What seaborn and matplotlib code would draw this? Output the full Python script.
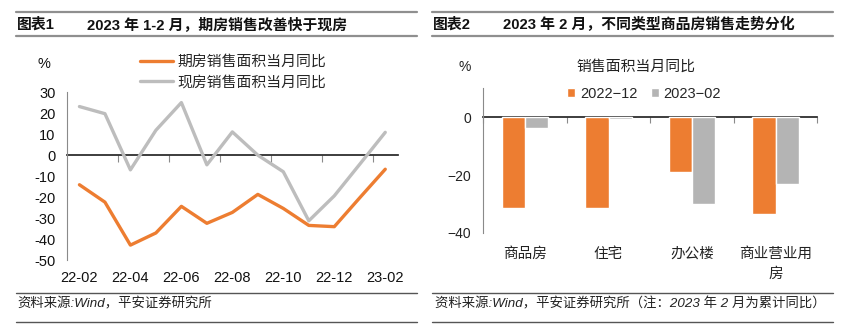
import matplotlib
matplotlib.use("Agg")
import matplotlib.pyplot as plt
import matplotlib.ticker as mticker
import seaborn as sns
import pandas as pd
import numpy as np

# ---------------- data ----------------
months = ["22-02", "22-03", "22-04", "22-05", "22-06", "22-07", "22-08",
          "22-09", "22-10", "22-11", "22-12", "23-01", "23-02"]
futures_yoy = [-14.1, -22.4, -42.9, -37.1, -24.4, -32.5, -27.3,
               -18.7, -25.4, -33.5, -34.1, -20.3, -6.7]
spot_yoy = [23.2, 19.8, -7.0, 11.9, 25.1, -4.6, 11.1,
            0.0, -7.9, -31.3, -19.4, -4.3, 10.9]
line_names = ["期房销售面积当月同比", "现房销售面积当月同比"]
month_tick_labels = ["22-02", "22-04", "22-06", "22-08", "22-10", "22-12", "23-02"]

categories = ["商品房", "住宅", "办公楼", "商业营业用\n房"]
dec_2022 = [-31.6, -31.6, -19.1, -33.6]
feb_2023 = [-3.8, -0.7, -30.1, -23.1]
bar_names = ["2022\u221212", "2023\u221202"]

ORANGE = "#ED7D31"
GRAY_LINE = "#BDBDBD"
GRAY_BAR = "#B4B4B4"
AXIS_C = "#8A8A8A"

sns.set_theme(style="white")
plt.rcParams["font.family"] = ["Liberation Sans", "Noto Sans CJK SC", "DejaVu Sans"]
plt.rcParams["axes.unicode_minus"] = True

W, H = 861, 326
fig = plt.figure(figsize=(W / 100, H / 100), dpi=100)


def fx(px):
    return px / W


def fy(py):
    return 1 - py / H


def hline(x0, x1, y, lw=1.0, color="#8C8C8C"):
    fig.add_artist(plt.Line2D([fx(x0), fx(x1)], [fy(y), fy(y)],
                              transform=fig.transFigure, color=color, lw=lw))


# ---------------- headers / footers ----------------
for (x0, x1) in [(16, 417), (432, 833)]:
    hline(x0, x1, 12, lw=1.6, color="#8F8F8F")
    hline(x0, x1, 35.5, lw=1.6, color="#8F8F8F")
    hline(x0, x1, 293, lw=1.0, color="#555555")
    hline(x0, x1, 322, lw=1.0, color="#555555")

title_kw = dict(fontsize=10.7, fontweight="bold", va="center", ha="left", color="#111111")
fig.text(fx(17), fy(24.5), "图表1", **title_kw)
fig.text(fx(87), fy(24.5), "2023 年 1-2 月，期房销售改善快于现房", **title_kw)
fig.text(fx(433), fy(24.5), "图表2", **title_kw)
fig.text(fx(503), fy(24.5), "2023 年 2 月，不同类型商品房销售走势分化", **title_kw)

foot_kw = dict(fontsize=9.6, style="italic", va="center", ha="left", color="#222222")
fig.text(fx(17), fy(304), "资料来源:Wind，平安证券研究所", **foot_kw)
fig.text(fx(435), fy(304), "资料来源:Wind，平安证券研究所（注：2023 年 2 月为累计同比）", **foot_kw)

# ---------------- left: line chart ----------------
axL = fig.add_axes([fx(66.7), fy(260), fx(398) - fx(66.7), fy(92.3) - fy(260)])
df_line = pd.DataFrame({
    "month": months * 2,
    "value": futures_yoy + spot_yoy,
    "series": [line_names[0]] * len(months) + [line_names[1]] * len(months),
})
df_line["pos"] = df_line["month"].map({m: i for i, m in enumerate(months)})
sns.lineplot(data=df_line, x="pos", y="value", hue="series",
             palette={line_names[0]: ORANGE, line_names[1]: GRAY_LINE},
             linewidth=2.4, ax=axL, legend=True, zorder=3)
ylo, yhi = -50, 30
axL.set_xlim(-0.5, len(months) - 0.5)
axL.set_ylim(ylo, yhi)
axL.set_xlabel("")
axL.set_ylabel("")
axL.set_yticks(np.arange(-50, 31, 10))
axL.yaxis.set_major_formatter(mticker.FuncFormatter(lambda v, p: f"{v:.0f}"))
axL.set_xticks([months.index(m) for m in month_tick_labels])
axL.set_xticklabels(month_tick_labels)
axL.tick_params(axis="x", length=0, pad=8, labelsize=10.5, colors="#111111")
axL.tick_params(axis="y", direction="in", length=5, width=0.8, color=AXIS_C,
                labelsize=10.5, labelcolor="#111111", pad=8)
for s in ["top", "right", "bottom"]:
    axL.spines[s].set_visible(False)
axL.spines["left"].set_color(AXIS_C)
axL.spines["left"].set_linewidth(0.8)
secL = axL.secondary_xaxis((0 - ylo) / (yhi - ylo))
secL.set_xticks(np.arange(1.5, len(months), 2))
secL.tick_params(axis="x", direction="in", length=5, width=0.8, color=AXIS_C,
                 labelbottom=False, labeltop=False)
secL.spines["bottom"].set_color(AXIS_C)
secL.spines["bottom"].set_linewidth(0.8)
secL.spines["bottom"].set_zorder(1)
axL.legend(loc="upper left", bbox_to_anchor=(fx(140), fy(55)),
           bbox_transform=fig.transFigure, frameon=False, fontsize=10.7,
           handlelength=2.2, handletextpad=0.3, labelspacing=0.45,
           borderpad=0, borderaxespad=0)
fig.text(fx(44), fy(64), "%", fontsize=10.5, ha="center", va="center", color="#111111")

# ---------------- right: bar chart ----------------
ry0, ry1 = -40, 10
axR = fig.add_axes([fx(483.3), fy(232.7), fx(817.3) - fx(483.3), fy(88.5) - fy(232.7)])
df_bar = pd.DataFrame({
    "cat": categories * 2,
    "value": dec_2022 + feb_2023,
    "period": [bar_names[0]] * len(categories) + [bar_names[1]] * len(categories),
})
sns.barplot(data=df_bar, x="cat", y="value", hue="period",
            palette={bar_names[0]: ORANGE, bar_names[1]: GRAY_BAR},
            width=0.56, gap=0, saturation=1, ax=axR, zorder=2)
axR.set_xlim(-0.5, len(categories) - 0.5)
axR.set_ylim(ry0, ry1)
axR.set_xlabel("")
axR.set_ylabel("")
axR.set_yticks([0, -20, -40])
axR.yaxis.set_major_formatter(mticker.FuncFormatter(lambda v, p: f"{v:.0f}".replace("-", "\u2212")))
axR.tick_params(axis="x", length=0, pad=10, labelsize=10.5, labelcolor="#222222")
axR.tick_params(axis="y", direction="in", length=3, width=0.8, color=AXIS_C,
                labelsize=10, labelcolor="#222222", pad=9)
for lab in axR.get_xticklabels():
    lab.set_linespacing(1.55)
for s in ["top", "right", "bottom"]:
    axR.spines[s].set_visible(False)
axR.spines["left"].set_color(AXIS_C)
axR.spines["left"].set_linewidth(0.8)
secR = axR.secondary_xaxis((0 - ry0) / (ry1 - ry0))
secR.set_xticks(np.arange(-0.5, len(categories), 1))
secR.tick_params(axis="x", direction="in", length=4, width=0.8, color=AXIS_C,
                 labelbottom=False, labeltop=False)
secR.spines["bottom"].set_color(AXIS_C)
secR.spines["bottom"].set_linewidth(0.8)
axR.legend(loc="upper left", bbox_to_anchor=(fx(567), fy(87)),
           bbox_transform=fig.transFigure, frameon=False, fontsize=10.5, ncol=2,
           handlelength=0.55, handleheight=0.55, handletextpad=0.35, columnspacing=0.9,
           borderpad=0, borderaxespad=0)
fig.text(fx(465), fy(67), "%", fontsize=10, ha="center", va="center", color="#222222")
fig.text(fx(636), fy(67), "销售面积当月同比", fontsize=10.7, ha="center", va="center", color="#222222")

fig.savefig("out.png", dpi=100)
